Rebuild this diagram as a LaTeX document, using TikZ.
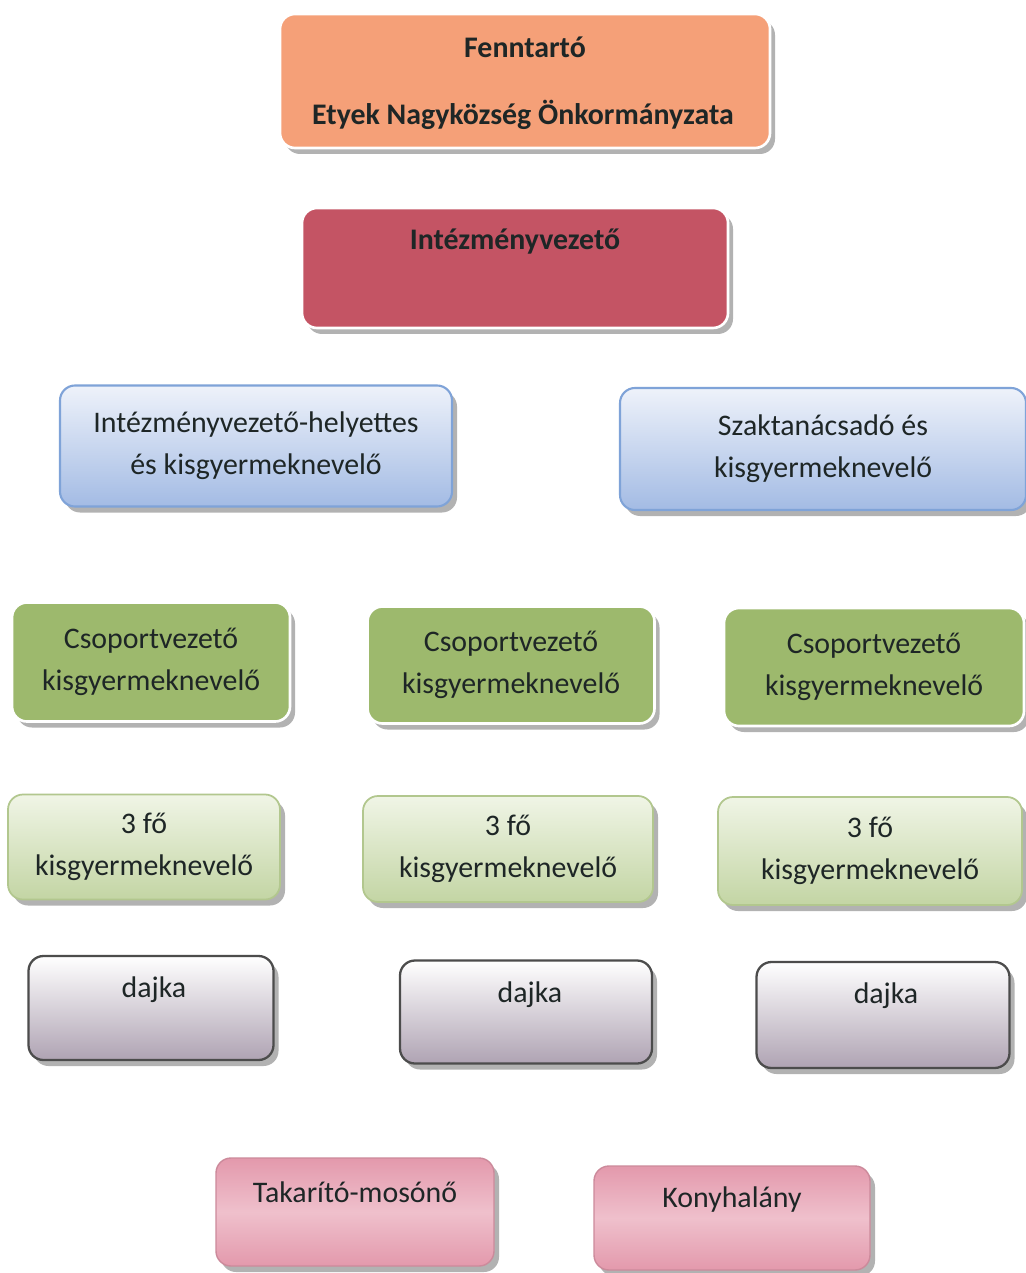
\documentclass[tikz,border=0pt]{standalone}
\usepackage{fontspec}
\setmainfont{Carlito}
\usepackage{tikz}
\usetikzlibrary{shadows}
\usetikzlibrary{positioning}

\definecolor{narancs}{HTML}{F5A078}
\definecolor{bordo}{HTML}{C45464}
\definecolor{kekvonal}{HTML}{7FA3D8}
\definecolor{kekalja}{HTML}{A3BBE4}
\definecolor{kekteto}{HTML}{EEF2FA}
\definecolor{zold}{HTML}{9DB96D}
\definecolor{vzoldteto}{HTML}{F0F5E6}
\definecolor{vzoldalja}{HTML}{C3D5A4}
\definecolor{vzoldvonal}{HTML}{B2C78E}
\definecolor{szurkealja}{HTML}{AFA3B3}
\definecolor{rozsa}{HTML}{E399AC}
\definecolor{rozsavil}{HTML}{EFC0CC}
\definecolor{betu}{HTML}{1E2626}

\tikzset{
  box/.style={rounded corners=0.3cm, inner sep=0pt, outer sep=0pt,
    drop shadow={shadow xshift=0.1cm, shadow yshift=-0.12cm, fill=black!50, opacity=.6}},
  sz/.style 2 args={minimum width=#1*0.02cm, minimum height=#2*0.02cm},
  txt/.style={text=betu, align=center, font=\fontsize{17}{24}\selectfont},
  btxt/.style={txt, font=\fontsize{17}{24}\selectfont\bfseries},
  orangebox/.style={box, fill=narancs, draw=white, line width=1.5pt},
  rosebox/.style={box, fill=bordo, draw=white, line width=1.5pt},
  bluebox/.style={box, top color=kekteto, bottom color=kekalja, draw=kekvonal, line width=1.2pt},
  greenbox/.style={box, fill=zold, draw=white, line width=1.5pt},
  lgreenbox/.style={box, top color=vzoldteto, bottom color=vzoldalja, draw=vzoldvonal, line width=1pt},
  dajkabox/.style={box, top color=white, bottom color=szurkealja, draw=black!70, line width=1.3pt},
  pinkbox/.style={box, top color=rozsa, bottom color=rozsa, middle color=rozsavil, draw=rozsa!90!black, line width=0.8pt},
}

\begin{document}
\begin{tikzpicture}[x=0.02cm, y=-0.02cm]
  \useasboundingbox[fill=white] (0,0) rectangle (1026,1273);

  % fenntarto es vezeto
  \node[orangebox, sz={490}{134}] (fenntarto) at (525,81) {};
  \node[btxt] (fenntartoT) at (525,47) {Fenntartó};
  \node[btxt] (etyekT) at (523,115) {Etyek Nagyközség Önkormányzata};

  \node[rosebox, sz={426}{120}] (vezeto) at (515,268) {};
  \node[btxt] (vezetoT) at (515,242) {Intézményvezető};

  % helyettes, szaktanacsado
  \node[bluebox, sz={392}{121}, txt] (helyettes) at (256,446) {Intézményvezető-helyettes\\és kisgyermeknevelő};
  \node[bluebox, sz={406}{122}, txt] (szaktan) at (823,449) {Szaktanácsadó és\\kisgyermeknevelő};

  % csoportok
  \node[greenbox, sz={278}{119}, txt] (csop1) at (151,662) {Csoportvezető\\kisgyermeknevelő};
  \node[greenbox, sz={287}{117}, txt] (csop2) at (511,665) {Csoportvezető\\kisgyermeknevelő};
  \node[greenbox, sz={300}{118}, txt] (csop3) at (874,667) {Csoportvezető\\kisgyermeknevelő};

  \node[lgreenbox, sz={272}{105}, txt] (kisgy1) at (144,847) {3 fő\\kisgyermeknevelő};
  \node[lgreenbox, sz={290}{106}, txt] (kisgy2) at (508,849) {3 fő\\kisgyermeknevelő};
  \node[lgreenbox, sz={304}{108}, txt] (kisgy3) at (870,851) {3 fő\\kisgyermeknevelő};

  \node[dajkabox, sz={245}{104}] (dajka1) at (151,1008) {};
  \node[txt] (dajka1T) at (154,990) {dajka};
  \node[dajkabox, sz={252}{103}] (dajka2) at (526,1012) {};
  \node[txt] (dajka2T) at (530,995) {dajka};
  \node[dajkabox, sz={253}{106}] (dajka3) at (883,1015) {};
  \node[txt] (dajka3T) at (886,996) {dajka};

  % egyeb dolgozok
  \node[pinkbox, sz={278}{108}] (takarito) at (355,1212) {};
  \node[txt] (takaritoT) at (355,1192) {Takarító-mosónő};
  \node[pinkbox, sz={276}{104}] (konyha) at (732,1218) {};
  \node[txt] (konyhaT) at (732,1200) {Konyhalány};
\end{tikzpicture}
\end{document}
